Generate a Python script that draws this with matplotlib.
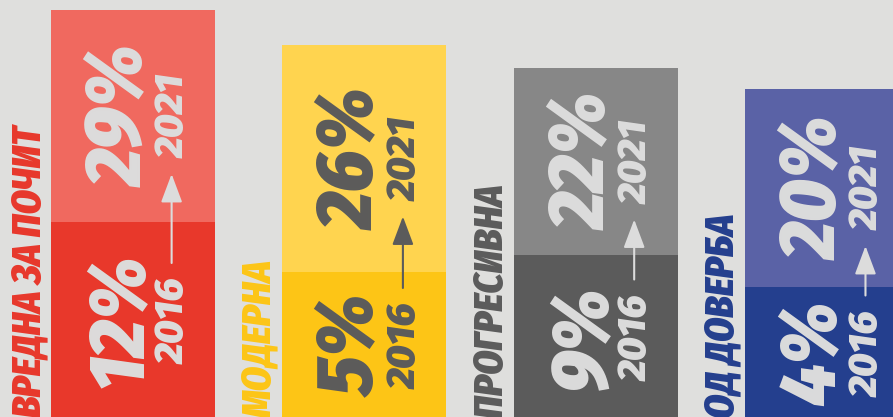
import matplotlib
matplotlib.use("Agg")
import matplotlib.pyplot as plt

categories = ["ВРЕДНА ЗА ПОЧИТ", "МОДЕРНА", "ПРОГРЕСИВНА", "ОД ДОВЕРБА"]
pct_2016 = [12, 5, 9, 4]
pct_2021 = [29, 26, 22, 20]
years = ["2016", "2021"]
# bar heights as drawn in the graphic (they are not proportional to the percentages)
height_2016 = [198, 148, 165, 133]
height_2021 = [410, 375, 352, 331]

color_2016 = ["#e8382b", "#fdc516", "#5b5b5b", "#243f8e"]
color_2021 = ["#f0695f", "#ffd44f", "#878787", "#5a62a6"]
text_color = ["#dcdcdc", "#5b5b5b", "#dcdcdc", "#dcdcdc"]
bg = "#dfdfdd"

fam = ["Fira Sans Condensed", "DejaVu Sans"]
fam_year = ["Fira Sans", "DejaVu Sans"]

fig = plt.figure(figsize=(8.93, 4.17), dpi=100, facecolor=bg)
ax = fig.add_axes([0, 0, 1, 1])
ax.set_facecolor(bg)
ax.axis("off")

x = list(range(len(categories)))
ax.bar(x, height_2016, width=0.709, color=color_2016)
ax.bar(x, [t - l for t, l in zip(height_2021, height_2016)], bottom=height_2016,
       width=0.709, color=color_2021)
ax.set_xlim(-0.575, 3.286)
ax.set_ylim(3, 420)

for i in x:
    low_c = height_2016[i] / 2
    up_c = (height_2016[i] + height_2021[i]) / 2
    tc = text_color[i]
    # category label, to the left of the bar
    ax.text(i - 0.402, 2, categories[i], rotation=90, rotation_mode="anchor",
            ha="left", va="baseline", color=color_2016[i], fontsize=28,
            fontweight=900, fontstyle="italic", family=fam)
    # big percentages
    for yc, v in [(low_c, pct_2016[i]), (up_c, pct_2021[i])]:
        ax.text(i + 0.043, yc, f"{v}%", rotation=90, rotation_mode="anchor",
                ha="center", va="baseline", color=tc, fontsize=57,
                fontweight=900, fontstyle="italic", family=fam)
    # years and arrow between them
    for yc, yr in [(low_c, years[0]), (up_c, years[1])]:
        ax.text(i + 0.2205, yc, yr, rotation=90, rotation_mode="anchor",
                ha="center", va="baseline", color=tc, fontsize=29,
                fontweight=900, fontstyle="italic", family=fam_year)
    ax.annotate("", xy=(i + 0.167, up_c - 58), xytext=(i + 0.167, low_c + 58),
                arrowprops=dict(arrowstyle="-|>,head_length=0.8,head_width=0.3", color=tc,
                                lw=1.5, mutation_scale=22, shrinkA=0, shrinkB=0))

fig.savefig("out.png", dpi=100, facecolor=bg)
